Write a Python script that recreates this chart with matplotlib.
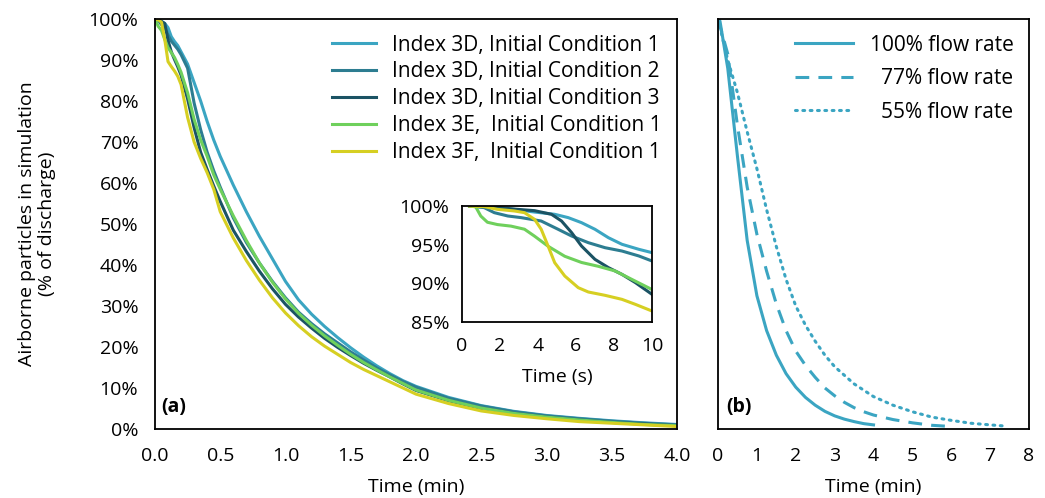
import matplotlib
matplotlib.use("Agg")
import matplotlib.pyplot as plt
from matplotlib.ticker import PercentFormatter, FormatStrFormatter

plt.rcParams['font.family'] = ['Open Sans', 'DejaVu Sans']
plt.rcParams['font.size'] = 14

# panel (a): airborne particles (%) vs time (min)
t_min = [0, 0.025, 0.05, 0.075, 0.1, 0.125, 0.15, 0.175, 0.2, 0.25, 0.3, 0.35, 0.4, 0.45,
         0.5, 0.6, 0.7, 0.8, 0.9, 1.0, 1.1, 1.2, 1.3, 1.4, 1.5, 1.6, 1.7, 1.8, 1.9, 2.0,
         2.25, 2.5, 2.75, 3.0, 3.25, 3.5, 3.75, 4.0]
ic1_3d = [100, 99.8, 99.4, 98.9, 97.9, 95.7, 94.5, 93.5, 92, 89, 84.5, 80, 75, 70.5,
          66.5, 59.5, 53, 47, 41.5, 36, 31.5, 28, 25, 22.3, 19.8, 17.5, 15.4, 13.5, 11.8, 10.4,
          7.7, 5.7, 4.3, 3.3, 2.6, 2.0, 1.5, 1.1]
ic2_3d = [100, 99.7, 98.6, 98, 96.1, 94.6, 93.6, 92.6, 91.3, 88, 79.5, 73, 67.5, 63,
          59, 51.5, 45.5, 40.5, 36, 32, 28.5, 25.7, 23.2, 21, 18.8, 16.8, 14.9, 13.2, 11.6, 10.2,
          7.5, 5.6, 4.2, 3.2, 2.5, 1.9, 1.4, 1.0]
ic3_3d = [100, 99.8, 99.4, 98.9, 94.8, 92, 90.1, 88.3, 86.3, 80.5, 73.5, 67.5, 63.3, 59.3,
          55.5, 48.5, 43.3, 38.5, 34.2, 30.4, 27.3, 24.6, 22.1, 19.9, 17.9, 16, 14.3, 12.7, 11.0, 9.4,
          6.9, 5.0, 3.8, 2.9, 2.2, 1.6, 1.2, 0.8]
ic1_3e = [100, 98.2, 97.2, 95, 93, 91.8, 90.6, 88.9, 87, 82, 75.5, 70.5, 66.5, 62,
          58.5, 52, 46, 40.5, 35.8, 31.7, 28.2, 25.3, 22.7, 20.4, 18.2, 16.2, 14.4, 12.7, 11.1, 9.5,
          7.0, 5.1, 3.8, 2.9, 2.2, 1.6, 1.1, 0.8]
ic1_3f = [100, 99.8, 99.2, 95, 89.6, 88.4, 87.3, 86, 84, 76, 70, 66, 62.5, 58.5,
          53, 46.6, 41.1, 36.3, 32, 28.3, 25.2, 22.5, 20.2, 18.2, 16.2, 14.5, 13, 11.5, 10, 8.5,
          6.2, 4.4, 3.3, 2.5, 1.8, 1.4, 1.0, 0.6]

# inset: first 10 seconds
s_ic1_3d = [0.4, 1.7, 2.76, 3.82, 4.88, 5.59, 6.29, 7.0, 7.71, 8.42, 9.31, 10]
p_ic1_3d = [100, 99.8, 99.57, 99.22, 98.93, 98.5, 97.85, 96.99, 95.9, 95.05, 94.4, 93.97]
s_ic2_3d = [0.4, 1.17, 1.7, 2.41, 3.11, 4.17, 5.06, 5.77, 6.65, 7.53, 8.42, 9.31, 10]
p_ic2_3d = [100, 99.79, 99.14, 98.71, 98.5, 98.06, 96.99, 96.12, 95.26, 94.61, 94.18, 93.54, 92.89]
s_ic3_3d = [0.4, 1.52, 2.76, 3.82, 4.71, 5.24, 5.77, 6.29, 7.0, 7.71, 8.42, 9.13, 10]
p_ic3_3d = [100, 99.9, 99.6, 99.4, 98.93, 98.06, 96.56, 94.83, 93.1, 92.03, 91.16, 90.09, 88.58]
s_ic1_3e = [0.4, 0.72, 0.99, 1.34, 1.87, 2.58, 3.29, 3.82, 4.53, 5.41, 6.29, 7.18, 8.06, 8.95, 10]
p_ic1_3e = [100, 99.9, 98.7, 97.9, 97.6, 97.4, 97.0, 96.1, 94.8, 93.5, 92.7, 92.2, 91.6, 90.5, 89.2]
s_ic1_3f = [0.4, 1.17, 1.87, 2.76, 3.29, 3.82, 4.17, 4.53, 4.88, 5.41, 6.12, 6.65, 7.53, 8.42, 9.13, 10]
p_ic1_3f = [100, 99.92, 99.57, 99.36, 99.14, 98.28, 96.99, 94.83, 92.67, 90.95, 89.44, 88.88,
            88.45, 87.93, 87.28, 86.42]

# panel (b): flow rate comparison
t100 = [0, 0.05, 0.25, 0.5, 0.75, 1.0, 1.25, 1.5, 1.75, 2.0, 2.25, 2.5, 2.75, 3.0, 3.25, 3.5, 3.75, 4.0]
p100 = [100, 99.5, 88, 66.5, 46, 32.5, 24, 18, 13.5, 10.2, 7.7, 5.8, 4.3, 3.2, 2.4, 1.8, 1.3, 1.0]
t77 = [0, 0.25, 0.5, 0.75, 1.0, 1.25, 1.5, 1.75, 2.0, 2.25, 2.5, 2.75, 3.0, 3.25, 3.5, 3.75,
       4.0, 4.5, 5.0, 5.5, 6.0]
p77 = [100, 91.5, 74, 59, 47.5, 38.5, 30.5, 24, 19, 15.5, 12.6, 10, 8.1, 6.5, 5.2, 4.2,
       3.4, 2.3, 1.5, 0.9, 0.6]
t55 = [0, 0.25, 0.5, 0.75, 1.0, 1.25, 1.5, 1.75, 2.0, 2.25, 2.5, 2.75, 3.0, 3.5, 4.0, 4.5, 5.0,
       5.5, 6.0, 6.5, 7.0, 7.4]
p55 = [100, 90, 82, 72.5, 63.5, 53.5, 44.5, 36.5, 30, 25.3, 21.4, 18, 15.2, 11, 7.9, 5.8, 4.2,
       2.9, 2.1, 1.4, 1.0, 0.7]

labels = ['Index 3D, Initial Condition 1', 'Index 3D, Initial Condition 2',
          'Index 3D, Initial Condition 3', 'Index 3E,  Initial Condition 1',
          'Index 3F,  Initial Condition 1']
colors = ['#3ba5c2', '#2d7d91', '#1b5364', '#6fd05c', '#d6cf22']
flow_labels = ['100% flow rate', '77% flow rate', '55% flow rate']

fig = plt.figure(figsize=(10.45, 4.98), dpi=100)
ax = fig.add_axes([0.1483, 0.1386, 0.4995, 0.8233])
axb = fig.add_axes([0.6871, 0.1386, 0.2976, 0.8233])
axi = fig.add_axes([0.4421, 0.3534, 0.1818, 0.2329])

lw = 2.2
main = [ic1_3d, ic2_3d, ic3_3d, ic1_3e, ic1_3f]
for y, c, lab in zip(main, colors, labels):
    ax.plot(t_min, y, color=c, lw=lw, label=lab, solid_joinstyle='round')

ax.set_xlim(0, 4)
ax.set_ylim(0, 100)
ax.set_xticks([0, 0.5, 1, 1.5, 2, 2.5, 3, 3.5, 4])
ax.xaxis.set_major_formatter(FormatStrFormatter('%.1f'))
ax.set_yticks(range(0, 101, 10))
ax.yaxis.set_major_formatter(PercentFormatter(decimals=0))
ax.tick_params(length=0)
ax.tick_params(axis='x', pad=13)
ax.tick_params(axis='y', pad=12)
ax.set_xlabel('Time (min)', labelpad=9)
ax.set_ylabel('Airborne particles in simulation\n(% of discharge)', labelpad=23)
ax.text(0.012, 0.03, '(a)', transform=ax.transAxes, fontweight='bold', va='bottom')
ax.legend(loc='upper right', frameon=False, fontsize=15, handlelength=2.1,
          handletextpad=0.75, labelspacing=0.28, borderaxespad=0.3, borderpad=0.45)

# inset
ins = [(s_ic1_3d, p_ic1_3d), (s_ic2_3d, p_ic2_3d), (s_ic3_3d, p_ic3_3d),
       (s_ic1_3e, p_ic1_3e), (s_ic1_3f, p_ic1_3f)]
for (s, p), c in zip(ins, colors):
    axi.plot(s, p, color=c, lw=lw, solid_joinstyle='round')
axi.set_xlim(0, 10)
axi.set_ylim(85, 100)
axi.set_xticks([0, 2, 4, 6, 8, 10])
axi.set_yticks([85, 90, 95, 100])
axi.yaxis.set_major_formatter(PercentFormatter(decimals=0))
axi.tick_params(length=0)
axi.tick_params(axis='x', pad=11)
axi.tick_params(axis='y', pad=9)
axi.set_xlabel('Time (s)', labelpad=9)

# panel (b)
axb.plot(t100, p100, color=colors[0], lw=lw, label=flow_labels[0], solid_joinstyle='round')
axb.plot(t77, p77, color=colors[0], lw=lw, ls=(0, (4.5, 3)), label=flow_labels[1])
axb.plot(t55, p55, color=colors[0], lw=lw, ls=(0, (0.6, 1.8)), dash_capstyle='round',
         label=flow_labels[2])
axb.set_xlim(0, 8)
axb.set_ylim(0, 100)
axb.set_xticks(range(0, 9))
axb.set_yticks([])
axb.tick_params(length=0)
axb.tick_params(axis='x', pad=13)
axb.set_xlabel('Time (min)', labelpad=9)
axb.text(0.025, 0.03, '(b)', transform=axb.transAxes, fontweight='bold', va='bottom')
leg = axb.legend(loc='upper right', frameon=False, fontsize=15, handlelength=2.8,
                 handletextpad=0.8, labelspacing=0.6, borderaxespad=0.3, borderpad=0.45)

for a in (ax, axb, axi):
    for sp in a.spines.values():
        sp.set_linewidth(1.3)
        sp.set_color('black')

# right-align the flow-rate legend texts
fig.canvas.draw()
r = fig.canvas.get_renderer()
widths = [t.get_window_extent(r).width for t in leg.get_texts()]
for t, w in zip(leg.get_texts(), widths):
    t.set_position((max(widths) - w, 0))

fig.savefig('out.png', dpi=100)
